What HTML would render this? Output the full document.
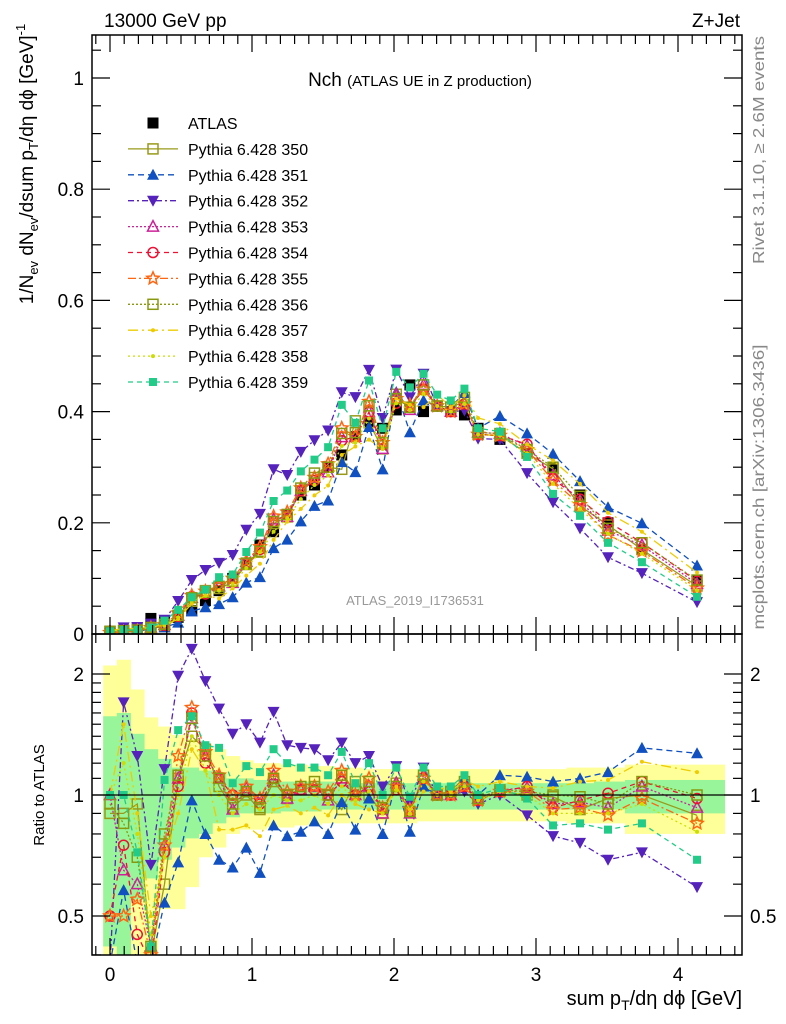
<!DOCTYPE html>
<html><head><meta charset="utf-8"><style>
html,body{margin:0;padding:0;background:#fff;}
svg{display:block;font-family:"Liberation Sans",sans-serif;}
</style></head><body>
<svg id="chart" width="786" height="1024" viewBox="0 0 786 1024" xmlns="http://www.w3.org/2000/svg">
<defs>
<clipPath id="cm"><rect x="92" y="35" width="650" height="599"/></clipPath>
<clipPath id="cr"><rect x="92" y="634" width="650" height="321"/></clipPath>
</defs>
<g id="bands" clip-path="url(#cr)"></g>
<g id="mainMarks" clip-path="url(#cm)"></g>
<g id="ratioMarks" clip-path="url(#cr)"></g>
<line x1="92" y1="795" x2="742" y2="795" stroke="#000" stroke-width="1.3"/>
<g id="axes"></g>
<rect x="92" y="35" width="650" height="599" fill="none" stroke="#000" stroke-width="1.5"/>
<rect x="92" y="634" width="650" height="321" fill="none" stroke="#000" stroke-width="1.5"/>
<text x="104" y="27" font-size="19">13000 GeV pp</text>
<text x="740" y="27" font-size="19" text-anchor="end">Z+Jet</text>
<text x="420" y="86" text-anchor="middle" font-size="19">Nch <tspan font-size="15">(ATLAS UE in Z production)</tspan></text>
<text x="415" y="605" text-anchor="middle" font-size="13" fill="#999">ATLAS_2019_I1736531</text>
<text transform="translate(764,150) rotate(-90)" text-anchor="middle" font-size="16" fill="#888" textLength="228" lengthAdjust="spacingAndGlyphs">Rivet 3.1.10, ≥ 2.6M events</text>
<text transform="translate(764,487) rotate(-90)" text-anchor="middle" font-size="16" fill="#888" textLength="285" lengthAdjust="spacingAndGlyphs">mcplots.cern.ch [arXiv:1306.3436]</text>
<text transform="translate(33,164) rotate(-90)" text-anchor="middle" font-size="19">1/N<tspan font-size="13" dy="5">ev</tspan><tspan dy="-5"> dN</tspan><tspan font-size="13" dy="5">ev</tspan><tspan dy="-5">/dsum p</tspan><tspan font-size="13" dy="5">T</tspan><tspan dy="-5">/dη dϕ  [GeV]</tspan><tspan font-size="13" dy="-8">-1</tspan></text>
<text transform="translate(44,795) rotate(-90)" text-anchor="middle" font-size="15">Ratio to ATLAS</text>
<text x="742" y="1005" text-anchor="end" font-size="20">sum p<tspan font-size="14" dy="5">T</tspan><tspan dy="-5">/dη dϕ [GeV]</tspan></text>
<g id="legend"></g>
</svg>
<script>
const xVals = [0,0.096,0.192,0.288,0.384,0.48,0.576,0.672,0.768,0.864,0.96,1.056,1.152,1.248,1.344,1.44,1.536,1.632,1.728,1.824,1.92,2.016,2.112,2.208,2.304,2.4,2.496,2.592,2.746,2.937,3.12,3.31,3.507,3.746,4.134];
const atlas = [0.005,0.007,0.01,0.028,0.022,0.03,0.042,0.06,0.078,0.1,0.125,0.16,0.184,0.215,0.25,0.268,0.30,0.322,0.355,0.38,0.37,0.403,0.448,0.40,0.41,0.40,0.394,0.37,0.35,0.325,0.30,0.25,0.20,0.152,0.097];
const r350 = [0.9,0.9,0.95,0.4,0.6,1.1,1.4,1.3,1.05,0.93,1.0,0.92,1.08,0.98,1.03,1.05,1.0,0.92,1.08,1.0,0.9,1.07,0.91,1.1,1.0,1.02,1.06,0.97,1.02,1.0,0.99,0.92,0.98,1.0,0.89];
const r351 = [0.38,0.58,0.38,0.38,0.54,0.68,0.97,0.8,0.69,0.66,0.74,0.64,0.84,0.79,0.81,0.86,0.8,0.96,0.82,0.98,0.8,1.08,0.81,1.05,1.0,1.02,1.1,1.0,1.12,1.11,1.08,1.1,1.14,1.31,1.27];
const r352 = [0.38,1.7,1.25,0.67,1.16,1.98,2.31,1.92,1.64,1.42,1.5,1.35,1.61,1.33,1.31,1.3,1.22,1.35,1.2,1.25,1.05,1.18,0.95,1.17,1.0,1.0,1.02,0.95,1.0,0.89,0.79,0.76,0.69,0.72,0.59];
const r353 = [1.0,0.65,0.6,0.42,0.75,1.1,1.55,1.25,1.1,0.92,1.04,0.98,1.12,0.98,1.03,1.05,0.97,1.1,1.0,1.05,0.9,1.07,0.9,1.12,1.0,1.0,1.05,0.98,1.03,1.04,0.95,0.96,0.93,1.05,0.93];
const r354 = [0.5,0.75,0.45,0.38,0.72,1.05,1.6,1.2,1.1,1.0,1.02,0.95,1.1,1.0,1.03,1.03,1.0,1.08,1.0,1.05,0.92,1.03,0.91,1.1,1.0,1.0,1.05,0.97,1.02,1.05,0.93,0.97,1.01,1.08,0.98];
const r355 = [0.5,0.5,0.55,0.4,0.75,1.25,1.65,1.28,1.12,1.0,1.05,0.98,1.15,1.02,1.05,1.05,1.02,1.15,1.0,1.1,0.93,1.05,0.92,1.1,1.0,1.0,1.05,0.97,1.02,1.02,0.92,0.93,0.89,0.98,0.85];
const r356 = [0.95,0.85,0.7,0.42,0.8,1.12,1.55,1.25,1.1,0.95,1.02,0.93,1.1,1.0,1.05,1.08,1.0,1.12,1.02,1.08,0.93,1.05,0.91,1.12,1.0,1.02,1.08,0.98,1.03,1.02,1.0,0.99,0.95,1.08,1.0];
const r357 = [1.0,1.5,0.9,0.5,0.7,0.9,1.3,1.15,0.82,0.82,0.84,0.79,0.92,0.94,0.9,0.93,0.89,1.0,0.95,0.92,0.9,1.05,0.92,1.02,1.05,1.02,1.09,1.05,1.08,1.05,1.04,1.08,1.09,1.21,1.14];
const r358 = [1.0,1.2,0.8,0.45,0.7,1.0,1.4,1.15,1.0,0.9,0.95,0.92,1.0,0.97,0.97,1.0,0.95,1.05,0.97,1.02,0.9,1.03,0.9,1.08,1.0,1.0,1.05,0.97,1.02,1.0,0.9,0.9,0.9,0.95,0.81];
const r359 = [1.0,1.0,0.72,0.42,1.09,1.45,1.57,1.33,1.31,1.07,1.18,1.14,1.3,1.2,1.17,1.17,1.12,1.28,1.07,1.2,1.0,1.17,0.99,1.17,1.05,1.05,1.12,1.0,1.04,0.98,0.84,0.85,0.82,0.85,0.69];
const yellowHi = [2.1,2.17,1.83,1.56,1.48,1.41,1.38,1.33,1.3,1.25,1.22,1.2,1.2,1.19,1.19,1.18,1.18,1.17,1.17,1.16,1.16,1.16,1.16,1.16,1.16,1.16,1.16,1.16,1.16,1.16,1.16,1.17,1.17,1.19,1.19];
const yellowLo = [0.3,0.3,0.3,0.3,0.52,0.52,0.59,0.70,0.74,0.8,0.82,0.82,0.83,0.83,0.84,0.84,0.85,0.85,0.85,0.85,0.85,0.85,0.85,0.86,0.86,0.86,0.86,0.86,0.86,0.86,0.86,0.85,0.85,0.8,0.8];
const greenHi = [1.57,1.6,1.42,1.3,1.23,1.17,1.17,1.15,1.13,1.1,1.1,1.09,1.09,1.08,1.08,1.08,1.08,1.07,1.07,1.07,1.07,1.07,1.07,1.07,1.07,1.07,1.07,1.07,1.07,1.07,1.07,1.07,1.08,1.09,1.09];
const greenLo = [0.42,0.4,0.55,0.62,0.69,0.74,0.78,0.8,0.85,0.88,0.9,0.9,0.9,0.91,0.91,0.91,0.92,0.92,0.92,0.92,0.92,0.92,0.92,0.92,0.92,0.92,0.92,0.92,0.92,0.92,0.92,0.92,0.92,0.9,0.9];
const yTicksMain = [0,0.2,0.4,0.6,0.8,1];
const xTicks = [0,1,2,3,4];
const ratioTicks = [0.5,1,2];

const NS = "http://www.w3.org/2000/svg";
const X = v => 110 + v*142;
const Ym = v => 634 - v*556;
const Yr = r => 795 - 121*Math.log2(r);
function mk(tag, attrs, parent){const e=document.createElementNS(NS,tag);for(const k in attrs)e.setAttribute(k,attrs[k]);parent.appendChild(e);return e;}

const series = [
 {id:"350",r:r350,c:"#999a1a",m:"osq",d:""},
 {id:"351",r:r351,c:"#1050c0",m:"tri",d:"6,4"},
 {id:"352",r:r352,c:"#5522bb",m:"itri",d:"6,3,2,3"},
 {id:"353",r:r353,c:"#cc2299",m:"otri",d:"2,2"},
 {id:"354",r:r354,c:"#ee1133",m:"ocirc",d:"5,4"},
 {id:"355",r:r355,c:"#ff6611",m:"star",d:"8,3,2,3"},
 {id:"356",r:r356,c:"#88990f",m:"osq",d:"2,2"},
 {id:"357",r:r357,c:"#eecc00",m:"dot",d:"10,4,2,4"},
 {id:"358",r:r358,c:"#ccdd00",m:"dot",d:"2,3"},
 {id:"359",r:r359,c:"#22cc88",m:"fsq",d:"5,4"}
];

function marker(g,type,x,y,c,name){
  let e;
  if(type==="osq") e=mk("rect",{x:x-5,y:y-5,width:10,height:10,fill:"none",stroke:c,"stroke-width":1.5},g);
  else if(type==="fsq") e=mk("rect",{x:x-4,y:y-4,width:8,height:8,fill:c},g);
  else if(type==="tri") e=mk("polygon",{points:`${x},${y-6} ${x-6},${y+5} ${x+6},${y+5}`,fill:c},g);
  else if(type==="itri") e=mk("polygon",{points:`${x},${y+6} ${x-6},${y-5} ${x+6},${y-5}`,fill:c},g);
  else if(type==="otri") e=mk("polygon",{points:`${x},${y-6} ${x-5.5},${y+4.5} ${x+5.5},${y+4.5}`,fill:"none",stroke:c,"stroke-width":1.5},g);
  else if(type==="ocirc") e=mk("circle",{cx:x,cy:y,r:5,fill:"none",stroke:c,"stroke-width":1.5},g);
  else if(type==="star"){let p=[];for(let i=0;i<10;i++){const a=-Math.PI/2+i*Math.PI/5,rr=i%2?3:6.5;p.push((x+rr*Math.cos(a)).toFixed(1)+","+(y+rr*Math.sin(a)).toFixed(1));}
    e=mk("polygon",{points:p.join(" "),fill:"none",stroke:c,"stroke-width":1.5},g);}
  else if(type==="dot") e=mk("circle",{cx:x,cy:y,r:2,fill:c},g);
  else if(type==="black") e=mk("rect",{x:x-5.5,y:y-5.5,width:11,height:11,fill:"#000"},g);
  
  
  return e;
}

const bands = document.getElementById("bands");
const n = xVals.length;
const edges = [];
edges.push(xVals[0]-(xVals[1]-xVals[0])/2);
for(let i=0;i<n-1;i++) edges.push((xVals[i]+xVals[i+1])/2);
edges.push(xVals[n-1]+(xVals[n-1]-edges[n-1]));
for(let i=0;i<n;i++){
  const y1=mk("rect",{x:X(edges[i]),y:Yr(yellowHi[i]),width:X(edges[i+1])-X(edges[i])+0.5,height:Yr(yellowLo[i])-Yr(yellowHi[i]),fill:"#ffff99"},bands);
  
  
}
for(let i=0;i<n;i++){
  const g1=mk("rect",{x:X(edges[i]),y:Yr(greenHi[i]),width:X(edges[i+1])-X(edges[i])+0.5,height:Yr(greenLo[i])-Yr(greenHi[i]),fill:"#99f599"},bands);
  
  
}

const mainG = document.getElementById("mainMarks");
const ratioG = document.getElementById("ratioMarks");
for(let i=0;i<n;i++) marker(mainG,"black",X(xVals[i]),Ym(atlas[i]),"#000","atlas-point");
series.forEach(s=>{
  const mv = s.r.map((r,i)=>atlas[i]*r);
  const g = mk("g",{},mainG);
  
  
  const pl = mk("polyline",{points:xVals.map((x,i)=>X(x).toFixed(1)+","+Ym(mv[i]).toFixed(1)).join(" "),fill:"none",stroke:s.c,"stroke-width":1.3,"stroke-dasharray":s.d},g);
  
  
  for(let i=0;i<n;i++) marker(g,s.m,X(xVals[i]),Ym(mv[i]),s.c,"point-"+s.id);
  const gr = mk("g",{},ratioG);
  
  
  const pr = mk("polyline",{points:xVals.map((x,i)=>X(x).toFixed(1)+","+Yr(s.r[i]).toFixed(1)).join(" "),fill:"none",stroke:s.c,"stroke-width":1.3,"stroke-dasharray":s.d},gr);
  
  
  for(let i=0;i<n;i++) marker(gr,s.m,X(xVals[i]),Yr(s.r[i]),s.c,"ratio-point-"+s.id);
});

const ax = document.getElementById("axes");
function line(x1,y1,x2,y2){const l=mk("line",{x1,y1,x2,y2,stroke:"#000","stroke-width":1.2},ax);}
function txt(x,y,s,anchor,size,name){const t=mk("text",{x,y,"text-anchor":anchor,"font-size":size},ax);t.textContent=s;}
for(let v=0;v<=1.07;v+=0.05){const y=Ym(v);const major=Math.abs(v/0.2-Math.round(v/0.2))<1e-6;const L=major?18:9;line(92,y,92+L,y);line(742,y,742-L,y);}
yTicksMain.forEach(v=>txt(84,Ym(v)+7,String(v),"end",19,"y-tick-label"));
for(let k=-1;k<=44;k++){const v=k/10;const x=X(v);if(x<92||x>742)continue;const major=k%10===0;const L=major?17:9;
  line(x,634,x,634-L);line(x,35,x,35+L);line(x,955,x,955-L);line(x,634,x,634+L);}
xTicks.forEach(v=>txt(X(v),981,String(v),"middle",19,"x-tick-label"));
[0.4,0.5,0.6,0.7,0.8,0.9,1,1.1,1.2,1.3,1.4,1.5,1.6,1.7,1.8,1.9,2].forEach(r=>{const y=Yr(r);if(y>955||y<634)return;const major=(r===0.5||r===1||r===2);const L=major?18:9;line(92,y,92+L,y);line(742,y,742-L,y);});
ratioTicks.forEach(r=>{txt(84,Yr(r)+7,String(r),"end",19,"ratio-tick-label");txt(750,Yr(r)+7,String(r),"start",19,"ratio-tick-label-right");});

const lg = document.getElementById("legend");
const lent = [{id:"ATLAS",m:"black",c:"#000",d:null}].concat(series);
lent.forEach((s,i)=>{
  const y = 123 + i*25.9;
  const g = mk("g",{},lg);
  
  
  if(s.d!==null){const l=mk("line",{x1:128,y1:y,x2:178,y2:y,stroke:s.c,"stroke-width":1.3,"stroke-dasharray":s.d},g);}
  marker(g,s.m,153,y,s.c,"legend-marker");
  const t=mk("text",{x:188,y:y+6,"font-size":16},g);
  t.textContent = s.id==="ATLAS"?"ATLAS":"Pythia 6.428 "+s.id;
  
  
});
</script>
</body></html>
